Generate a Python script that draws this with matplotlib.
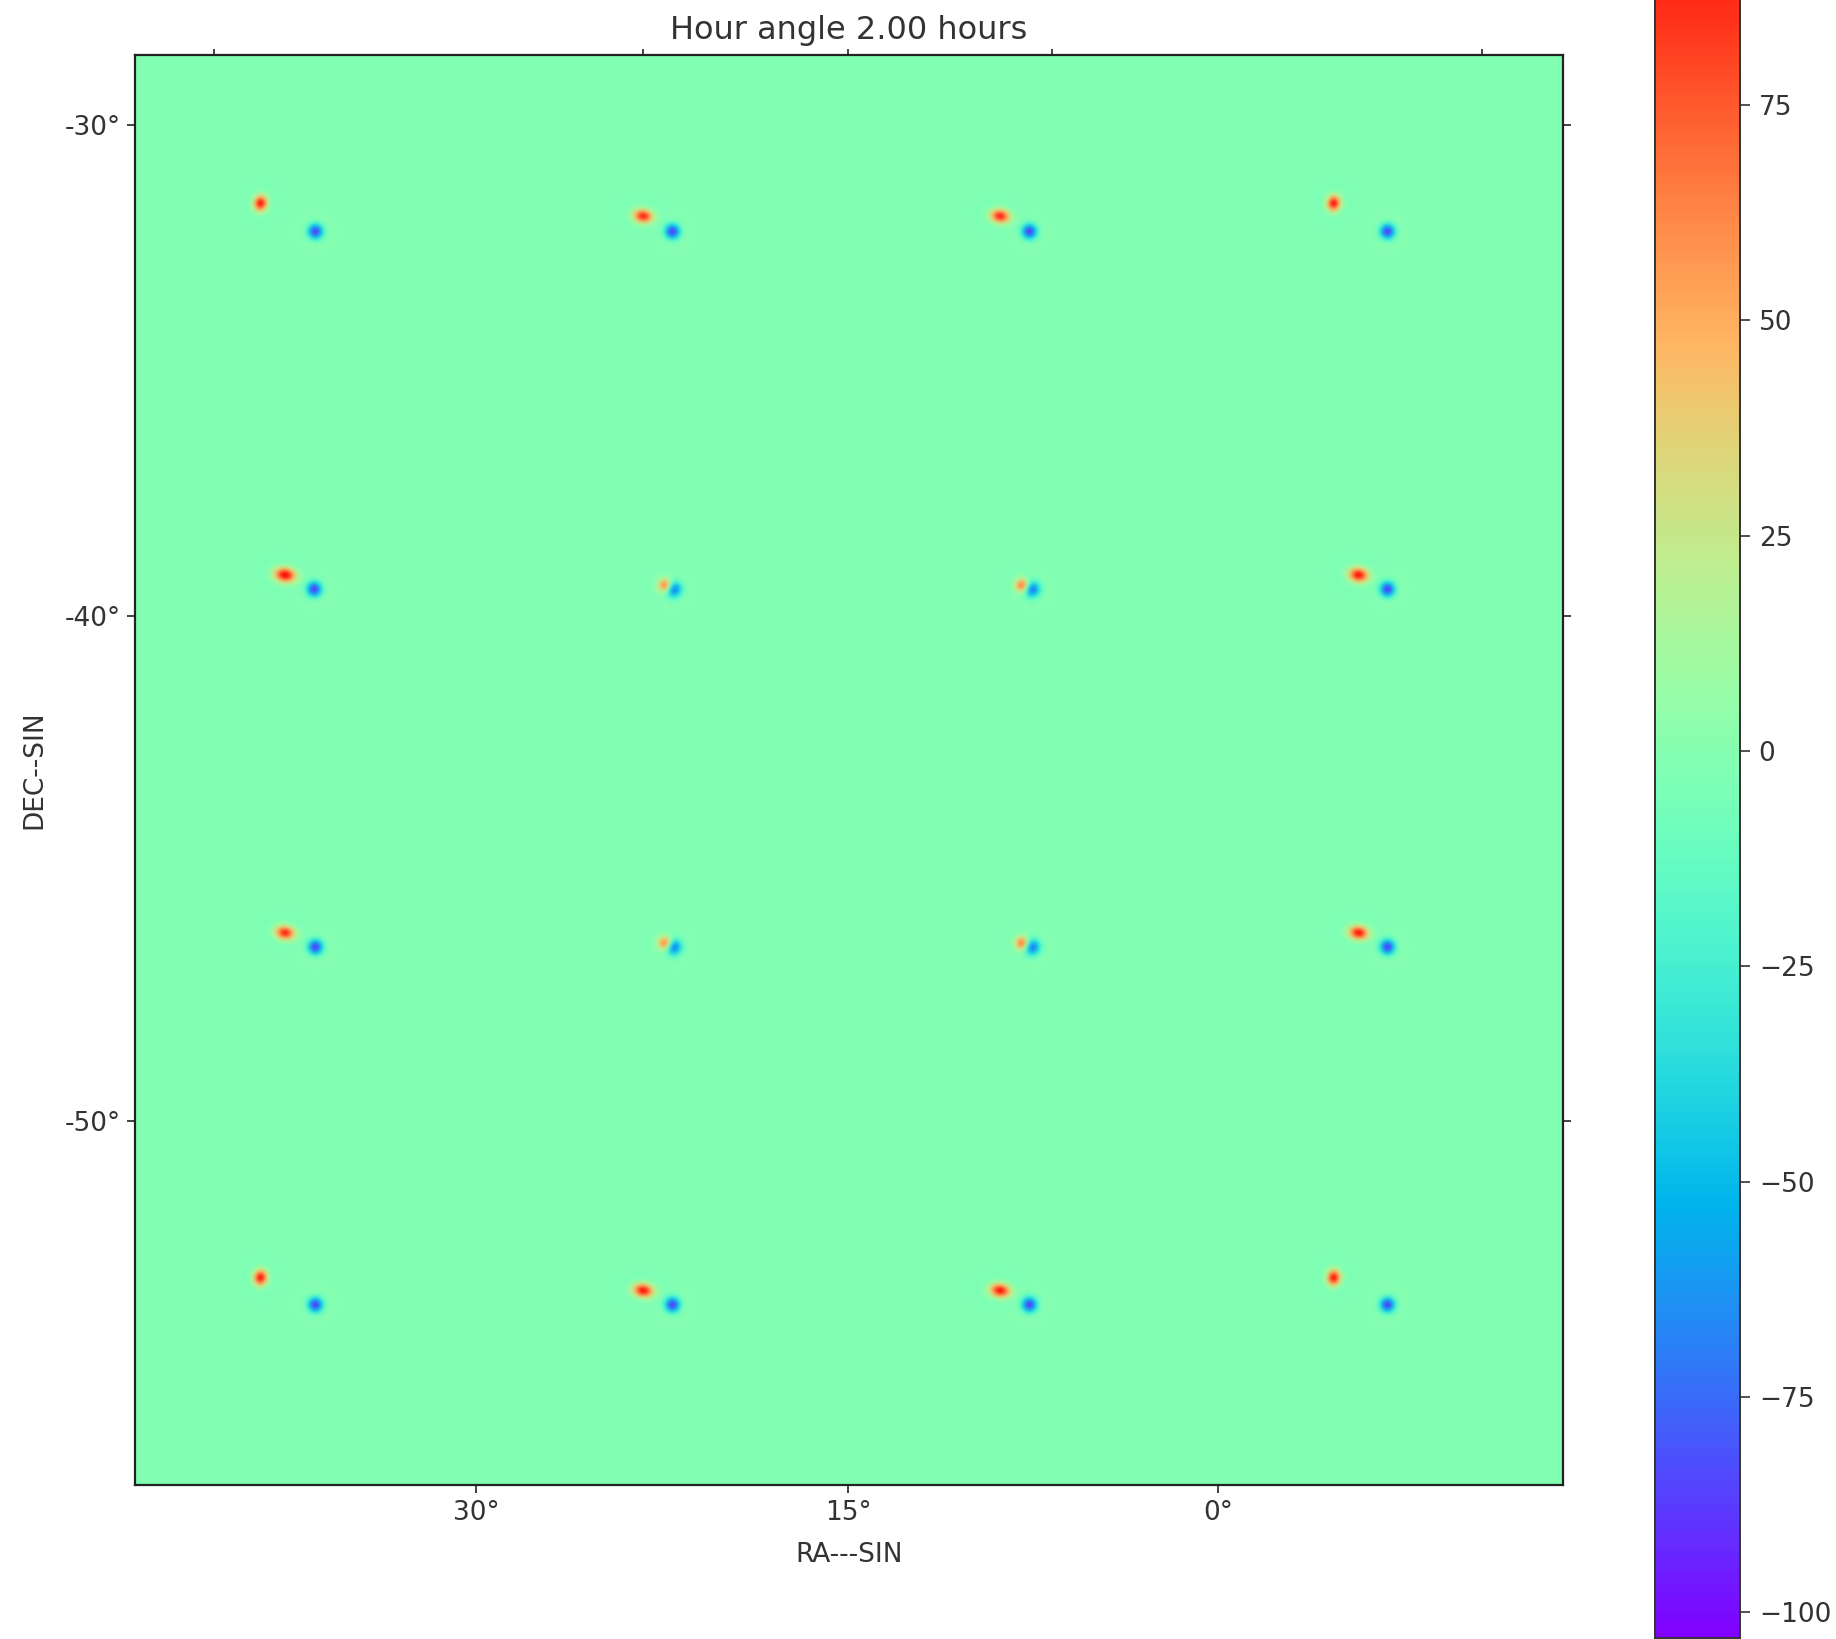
import numpy as np
import matplotlib
matplotlib.use("Agg")
import matplotlib.pyplot as plt

npix = 512
background = -1.5  # mean level of the noise field, the noise itself is not reproduced

red_x = [44.5, 181.7, 309.7, 429.3,
         53.3, 189.7, 317.7, 438.2,
         53.3, 189.7, 317.7, 438.2,
         44.5, 181.7, 309.7, 429.3]
red_y = [52.9, 57.5, 57.5, 52.9,
         185.9, 189.7, 189.7, 185.9,
         313.9, 317.7, 317.7, 313.9,
         437.3, 441.9, 441.9, 437.3]
red_amp = [100, 95, 95, 100,
           105, 78, 78, 100,
           95, 78, 78, 100,
           100, 100, 100, 100]
red_sx = [1.7, 2.5, 2.5, 1.7,
          2.7, 1.8, 1.8, 2.5,
          2.5, 1.8, 1.8, 2.5,
          1.7, 2.6, 2.6, 1.7]
red_sy = [2.0, 1.7, 1.7, 2.0,
          1.8, 1.7, 1.7, 1.8,
          1.7, 1.7, 1.7, 1.7,
          2.0, 1.7, 1.7, 2.0]

blue_x = [64.2, 192.2, 320.2, 448.6,
          63.8, 192.6, 321.1, 448.6,
          64.2, 192.6, 321.1, 448.6,
          64.2, 192.2, 320.2, 448.6]
blue_y = [63.0, 63.0, 63.0, 63.0,
          191.0, 191.0, 191.0, 191.0,
          319.0, 319.0, 319.0, 319.0,
          447.0, 447.0, 447.0, 447.0]
blue_amp = [-90, -90, -90, -90,
            -90, -76, -76, -90,
            -90, -76, -76, -90,
            -90, -90, -90, -90]
blue_sigma = [1.9, 1.9, 1.9, 1.9,
              1.9, 2.0, 2.0, 1.9,
              1.9, 2.0, 2.0, 1.9,
              1.9, 1.9, 1.9, 1.9]

x_tick_labels = ["30°", "15°", "0°"]
y_tick_labels = ["-30°", "-40°", "-50°"]
cbar_ticks = [-100, -75, -50, -25, 0, 25, 50, 75]
title = "Hour angle 2.00 hours"
vmin, vmax = -103, 98


def blob(xx, yy, x0, y0, amp, sx, sy, tilt=0.0):
    # beam shape with a weak negative ring round it
    c, s = np.cos(tilt), np.sin(tilt)
    dx = (xx - x0) * c + (yy - y0) * s
    dy = -(xx - x0) * s + (yy - y0) * c
    r2 = (dx / sx) ** 2 + (dy / sy) ** 2
    return amp * (1.08 * np.exp(-r2 / 2) - 0.08 * np.exp(-r2 / 8))


yy, xx = np.mgrid[0:npix, 0:npix]
image = np.full((npix, npix), background, dtype=float)
for x0, y0, amp, sx, sy in zip(red_x, red_y, red_amp, red_sx, red_sy):
    image += blob(xx, yy, x0, y0, amp, sx, sy, np.radians(8))
for x0, y0, amp, sig in zip(blue_x, blue_y, blue_amp, blue_sigma):
    image += blob(xx, yy, x0, y0, amp, sig, sig)

W, H = 1836, 1639
fig = plt.figure(figsize=(W / 100, H / 100), dpi=100)

# axes box in picture pixels
left, right, top, bottom = 135, 1563, 54.5, 1485
ax = fig.add_axes([left / W, 1 - bottom / H, (right - left) / W, (bottom - top) / H])
im = ax.imshow(image, cmap="rainbow", vmin=vmin, vmax=vmax, origin="upper",
               interpolation="bicubic", extent=(-0.5, npix - 0.5, npix - 0.5, -0.5),
               aspect="auto")


def to_x(px):
    return [(p - left) / (right - left) * npix - 0.5 for p in px]


def to_y(py):
    return [(p - top) / (bottom - top) * npix - 0.5 for p in py]


text_color = "#333333"
label_size = 19
title_size = 23

ax.set_xticks(to_x([476, 848, 1218]))
ax.set_xticklabels(x_tick_labels)
ax.set_yticks(to_y([125, 616, 1121]))
ax.set_yticklabels(y_tick_labels)
ax.tick_params(axis="both", length=5.5, width=1.2, labelsize=label_size, colors=text_color,
               pad=5)
ax.tick_params(axis="x", color="#222222")
ax.tick_params(axis="y", color="#222222", right=True)
ax.set_xlabel("RA---SIN", fontsize=label_size, color=text_color, labelpad=11.5)
ax.set_ylabel("DEC--SIN", fontsize=label_size, color=text_color, labelpad=12)
ax.set_title(title, fontsize=title_size, color=text_color, pad=11)

# extra ticks along the top edge, no labels
top_ax = ax.secondary_xaxis("top")
top_ax.set_xticks(to_x([214, 643, 848, 1052, 1482]))
top_ax.set_xticklabels([])
top_ax.tick_params(axis="x", length=3.5, width=1.2, color="#222222")
top_ax.spines["top"].set_visible(False)

for sp in ax.spines.values():
    sp.set_linewidth(1.6)
    sp.set_color("#222222")

# the colour bar runs off the top of the picture in the reference
cb_left, cb_right, cb_top, cb_bottom = 1654.5, 1740, -93, 1638
cax = fig.add_axes([cb_left / W, 1 - cb_bottom / H, (cb_right - cb_left) / W,
                    (cb_bottom - cb_top) / H])
cbar = fig.colorbar(im, cax=cax)
cbar.set_ticks(cbar_ticks)
cbar.set_ticklabels([str(t).replace("-", "\u2212") for t in cbar_ticks])
cbar.ax.tick_params(length=7.5, width=1.2, labelsize=label_size, colors=text_color, pad=6)
cbar.outline.set_linewidth(1.4)
cbar.outline.set_edgecolor("#333333")

fig.savefig("out.png", dpi=100, facecolor="white")
